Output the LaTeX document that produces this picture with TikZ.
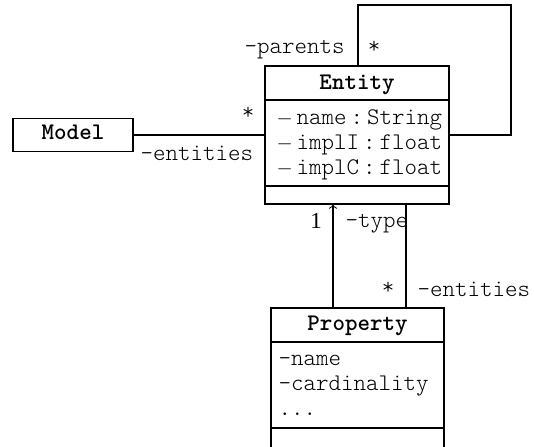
\documentclass[tikz,border=0pt]{standalone}
\usepackage{fontspec}
\setmainfont{Liberation Serif}
\setmonofont{lmmonolt10}[Extension=.otf,UprightFont=*-regular,BoldFont=*-bold,Scale=1.143]
\begin{document}
\begin{tikzpicture}[x=0.48pt,y=-0.48pt,line width=0.5pt,
  umlbox/.style={draw,rectangle,inner sep=0pt},
  ctitle/.style={font=\ttfamily\bfseries,anchor=base,inner sep=0pt},
  attr/.style={font=\ttfamily,anchor=base west,inner sep=0pt},
  lbl/.style={font=\ttfamily,anchor=base west,inner sep=0pt},
  mult/.style={font=\ttfamily,inner sep=0pt},
  one/.style={font=\rmfamily\fontsize{11}{13}\selectfont,anchor=base,inner sep=0pt}]
\useasboundingbox (0,0) rectangle (534,446);
% boxes
\node[umlbox,minimum width=88.32pt,minimum height=66.24pt] (entity) at (357,135) {};
\node[umlbox,minimum width=57.6pt,minimum height=15.84pt] (model) at (73,135) {};
\node[umlbox,minimum width=83.04pt,minimum height=67.2pt] (property) at (357.5,378) {};
% separators
\draw (entity.west |- 0,100) -- (entity.east |- 0,100);
\draw (entity.west |- 0,186) -- (entity.east |- 0,186);
\draw (property.west |- 0,342) -- (property.east |- 0,342);
\draw (property.west |- 0,428) -- (property.east |- 0,428);
% titles
\node[ctitle] (tentity) at (357,89) {Entity};
\node[ctitle] (tmodel) at (73,139) {Model};
\node[ctitle] (tproperty) at (357.5,330) {Property};
% attributes
\node[attr] (a1) at (276,124) {$-$\,name\,:\,String};
\node[attr] (a2) at (276,149) {$-$\,implI\,:\,float};
\node[attr] (a3) at (276,174) {$-$\,implC\,:\,float};
\node[attr] (p1) at (278,365) {-name};
\node[attr] (p2) at (278,390) {-cardinality};
\node[attr] (p3) at (278,415) {...};
% connector anchors
\coordinate (ta) at (333,0);
\coordinate (tb) at (406,0);
\coordinate (lp) at (358,0);
\coordinate (lc) at (511,5);
% connectors
\draw (model) -- (entity);
\draw[->] (property.north -| ta) -- (entity.south -| ta);
\draw (property.north -| tb) -- (entity.south -| tb);
\draw (entity.north -| lp) |- (lc) |- (entity.east);
% labels
\node[lbl] (lpar) at (244,53) {-parents};
\node[mult] (mpar) at (374,47) {*};
\node[mult] (mmod) at (248,113) {*};
\node[lbl] (lent1) at (140,160) {-entities};
\node[one] (m1) at (316,228) {1};
\node[lbl] (ltype) at (345,227) {-type};
\node[mult] (mprop) at (388,288) {*};
\node[lbl] (lent2) at (417,296) {-entities};
\end{tikzpicture}
\end{document}
